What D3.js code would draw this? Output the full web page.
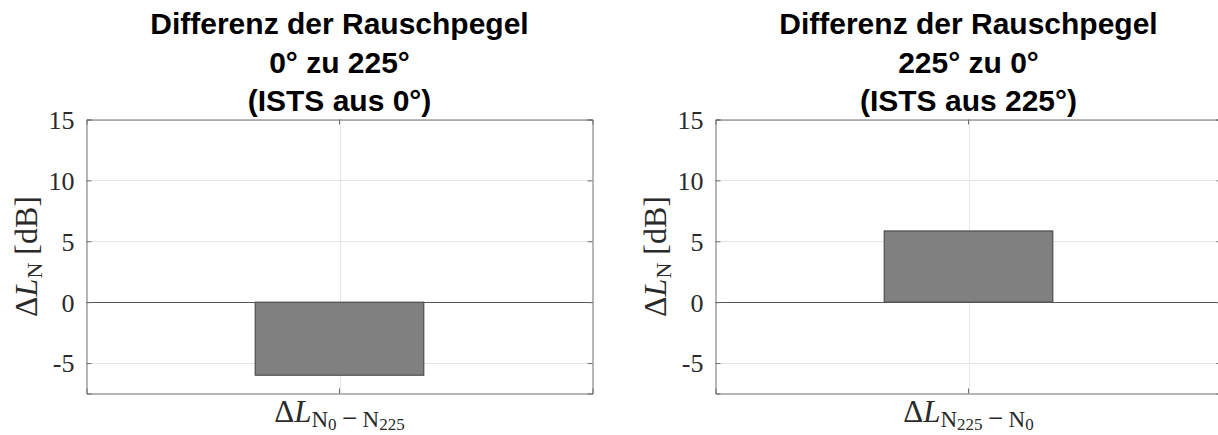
<!DOCTYPE html>
<html>
<head>
<meta charset="utf-8">
<script src="https://cdn.jsdelivr.net/npm/d3@7"></script>
<style>
  html, body { margin: 0; padding: 0; background: #fff; }
  svg { display: block; }
</style>
</head>
<body>
<svg id="chart" width="1218" height="435"></svg>
<script>
// ---- data ----
const titlesLeft  = ["Differenz der Rauschpegel", "0° zu 225°", "(ISTS aus 0°)"];
const titlesRight = ["Differenz der Rauschpegel", "225° zu 0°", "(ISTS aus 225°)"];
const categoriesLeft  = ["N0-N225"];
const categoriesRight = ["N225-N0"];
const valuesLeft  = [-6.0];
const valuesRight = [5.85];
const yTicks = [-5, 0, 5, 10, 15];
const yDomain = [-7.5, 15];
// subscript pieces for the category labels: [first, firstSub, second, secondSub]
const subLeft  = ["N", "0", "N", "225"];
const subRight = ["N", "225", "N", "0"];

const svg = d3.select("#chart");
const serif = "'Liberation Serif', 'Times New Roman', serif";
const sans  = "'Liberation Sans', Arial, Helvetica, sans-serif";

function panel(x0, x1, titles, cats, vals, sub) {
  const top = 119.5, bottom = 393.5;
  const x = d3.scaleBand().domain(cats).range([x0, x1]).padding(0.5);
  const y = d3.scaleLinear().domain(yDomain).range([bottom, top]);
  const g = svg.append("g");
  const cx = (x0 + x1) / 2;

  // grid lines
  g.append("g").selectAll("line").data(yTicks).join("line")
    .attr("x1", x0).attr("x2", x1)
    .attr("y1", d => Math.round(y(d)) + 0.5).attr("y2", d => Math.round(y(d)) + 0.5)
    .attr("stroke", "#e6e6e6").attr("stroke-width", 1);
  g.append("g").selectAll("line").data(cats).join("line")
    .attr("x1", d => Math.round(x(d) + x.bandwidth() / 2) + 0.5)
    .attr("x2", d => Math.round(x(d) + x.bandwidth() / 2) + 0.5)
    .attr("y1", top).attr("y2", bottom)
    .attr("stroke", "#e6e6e6").attr("stroke-width", 1);

  // bars
  g.append("g").selectAll("rect").data(vals).join("rect")
    .attr("x", (d, i) => x(cats[i]))
    .attr("width", x.bandwidth())
    .attr("y", d => y(Math.max(0, d)))
    .attr("height", d => Math.abs(y(d) - y(0)))
    .attr("fill", "#808080").attr("stroke", "#3c3c3c").attr("stroke-width", 1);

  // baseline at zero
  g.append("line")
    .attr("x1", x0).attr("x2", x1)
    .attr("y1", Math.round(y(0)) + 0.5).attr("y2", Math.round(y(0)) + 0.5)
    .attr("stroke", "#555").attr("stroke-width", 1);

  // axes
  const yAxisL = d3.axisLeft(y).tickValues(yTicks).tickSize(-5).tickPadding(12).tickFormat(d => String(d));
  const yAxisR = d3.axisRight(y).tickValues(yTicks).tickSize(-5).tickFormat("");
  const xAxisB = d3.axisBottom(x).tickSize(-5).tickFormat("");
  const xAxisT = d3.axisTop(x).tickSize(-5).tickFormat("");

  const axL = g.append("g").attr("transform", `translate(${x0},0)`).call(yAxisL);
  const axR = g.append("g").attr("transform", `translate(${x1},0)`).call(yAxisR);
  const axB = g.append("g").attr("transform", `translate(0,${bottom})`).call(xAxisB);
  const axT = g.append("g").attr("transform", `translate(0,${top})`).call(xAxisT);
  [axL, axR, axB, axT].forEach(a => {
    a.select(".domain").attr("stroke", "#6e6e6e").attr("stroke-width", 1);
    a.selectAll(".tick line").attr("stroke", "#6e6e6e");
  });
  axL.selectAll(".tick text")
    .attr("font-family", serif).attr("font-size", 26).attr("fill", "#2a2a2a")
    .attr("dy", "0.34em");

  // y label
  const yl = g.append("text")
    .attr("transform", `translate(${x0 - 50},${(top + bottom) / 2}) rotate(-90)`)
    .attr("text-anchor", "middle")
    .attr("font-family", serif).attr("font-size", 32).attr("fill", "#2a2a2a");
  yl.append("tspan").text("Δ");
  yl.append("tspan").attr("font-style", "italic").text("L");
  yl.append("tspan").attr("font-size", 22).attr("dy", 5).text("N");
  yl.append("tspan").attr("dy", -5).text(" [dB]");

  // category label
  cats.forEach((c, i) => {
    const t = g.append("text")
      .attr("x", x(c) + x.bandwidth() / 2).attr("y", 421.5)
      .attr("text-anchor", "middle")
      .attr("font-family", serif).attr("font-size", 31).attr("fill", "#2a2a2a");
    t.append("tspan").text("Δ");
    t.append("tspan").attr("font-style", "italic").text("L");
    t.append("tspan").attr("font-size", 23).attr("dy", 5).text(sub[0]);
    t.append("tspan").attr("font-size", 17).attr("dy", 3).text(sub[1]);
    t.append("tspan").attr("font-size", 27).attr("dy", -3).text("\u2009−\u2009");
    t.append("tspan").attr("font-size", 23).text(sub[2]);
    t.append("tspan").attr("font-size", 17).attr("dy", 3).text(sub[3]);
  });

  // title
  const tt = g.append("text")
    .attr("text-anchor", "middle")
    .attr("font-family", sans).attr("font-weight", "bold").attr("font-size", 30).attr("fill", "#000");
  titles.forEach((s, i) => {
    tt.append("tspan").attr("x", cx).attr("y", 34 + i * 38.5).text(s);
  });
}

panel(86.5, 592.5, titlesLeft, categoriesLeft, valuesLeft, subLeft);
panel(715.5, 1221.5, titlesRight, categoriesRight, valuesRight, subRight);
</script>
</body>
</html>
